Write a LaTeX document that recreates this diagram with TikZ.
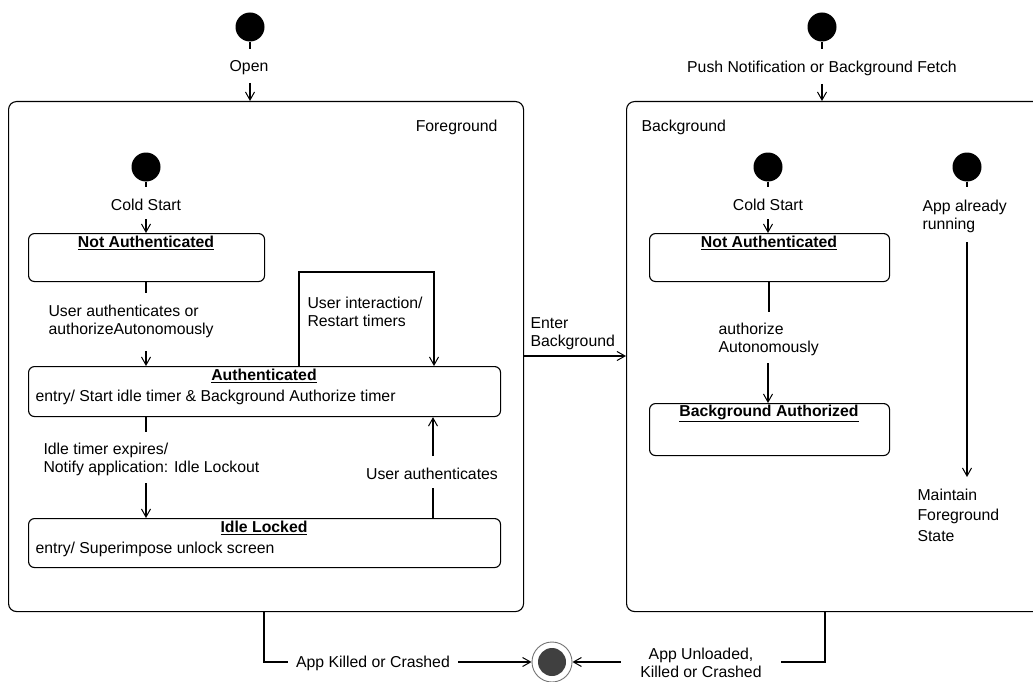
\documentclass[tikz,border=0pt]{standalone}
\usepackage{fontspec}
\setmainfont{Liberation Sans}
\usetikzlibrary{arrows.meta}
\begin{document}
\begin{tikzpicture}[x=1pt,y=-1pt,
  every node/.style={font=\fontsize{15.8}{18}\selectfont},
  line width=1.1pt,
  tip/.style={-{Straight Barb[length=8pt,width=9pt,line width=1pt]}},
  init/.style={circle,fill=black,minimum size=29pt,inner sep=0pt},
  region/.style={draw,rounded corners=8pt,anchor=north west,inner sep=0pt},
  statebox/.style={draw,rounded corners=6pt,anchor=north west,inner sep=0pt},
  lbl/.style={inner sep=1pt,align=left},
  ttl/.style={inner sep=0pt,font=\fontsize{15.8}{18}\selectfont\bfseries},
]
\clip (0,0) rectangle (1033,682);
% regions
\node[region,minimum width=515pt,minimum height=510pt] (fg) at (8,101) {};
\node[region,minimum width=440pt,minimum height=510pt] (bg) at (626,101) {};
\node[lbl,anchor=east] (fgt) at (499,127) {Foreground};
\node[lbl,anchor=west] (bgt) at (640,127) {Background};

% top initial (Open)
\node[init] (s0) at (250,27) {};
\coordinate (s0e) at (250,49);
\draw (s0.south) -- (s0e);
\node[lbl] (open) at (249,68) {Open};
\coordinate (s0a) at (250,83);
\draw[tip] (s0a) -- (fg.north -| s0a);

% top initial (Push)
\node[init] (s1) at (822,27) {};
\coordinate (s1e) at (822,49);
\draw (s1.south) -- (s1e);
\node[lbl] (push) at (822,68) {Push Notification or Background Fetch};
\coordinate (s1a) at (822,84);
\draw[tip] (s1a) -- (bg.north -| s1a);

% ---------- Foreground ----------
\node[init] (f0) at (146,167) {};
\coordinate (f0e) at (146,187);
\draw (f0.south) -- (f0e);
\node[lbl] (fcold) at (146,205) {Cold Start};
\coordinate (f0a) at (146,219);

\node[statebox,minimum width=236pt,minimum height=48pt] (fna) at (28,233) {};
\node[ttl] (fnat) at (146,243) {\underline{Not Authenticated}};
\draw[tip] (f0a) -- (fna.north -| f0a);

\node[statebox,minimum width=472pt,minimum height=50pt] (fauth) at (28,366) {};
\node[ttl] (fautht) at (264,376) {\underline{Authenticated}};
\node[lbl,anchor=west] (fauthe) at (34,397) {entry/ Start idle timer \& Background Authorize timer};

\node[statebox,minimum width=472pt,minimum height=49pt] (fidle) at (28,518) {};
\node[ttl] (fidlet) at (264,528) {\underline{Idle Locked}};
\node[lbl,anchor=west] (fidlee) at (34,549) {entry/ Superimpose unlock screen};

% Not Authenticated -> Authenticated
\coordinate (c1) at (146,293);
\draw (fna.south -| c1) -- (c1);
\node[lbl,anchor=west] (ua) at (47,321) {User authenticates or\\authorizeAutonomously};
\coordinate (c2) at (146,351);
\draw[tip] (c2) -- (fauth.north -| c2);

% self loop
\coordinate (l1) at (299,272);
\coordinate (l2) at (434,272);
\draw[tip] (fauth.north -| l1) -- (l1) -- (l2) -- (fauth.north -| l2);
\node[lbl,anchor=west] (ui) at (306,312) {User interaction/\\Restart timers};

% Authenticated -> Idle Locked
\coordinate (c3) at (146,432);
\draw (fauth.south -| c3) -- (c3);
\node[lbl,anchor=west] (ite) at (42,459) {Idle timer expires/\\Notify application: Idle Lockout};
\coordinate (c4) at (146,483);
\draw[tip] (c4) -- (fidle.north -| c4);

% Idle Locked -> Authenticated
\coordinate (c5) at (433,488);
\draw (fidle.north -| c5) -- (c5);
\node[lbl] (uau) at (432,474) {User authenticates};
\coordinate (c6) at (433,456);
\draw[tip] (c6) -- (fauth.south -| c6);

% Enter Background
\coordinate (eb) at (0,356);
\draw[tip] (fg.east |- eb) -- (bg.west |- eb);
\node[lbl,anchor=west] (ebl) at (529,334) {Enter\\Background};

% ---------- Background ----------
\node[init] (b0) at (768,167) {};
\coordinate (b0e) at (768,187);
\draw (b0.south) -- (b0e);
\node[lbl] (bcold) at (768,205) {Cold Start};
\coordinate (b0a) at (768,219);

\node[statebox,minimum width=240pt,minimum height=48pt] (bna) at (649,233) {};
\node[ttl] (bnat) at (769,243) {\underline{Not Authenticated}};
\draw[tip] (b0a) -- (bna.north -| b0a);

\node[statebox,minimum width=240pt,minimum height=52pt] (bba) at (649,403) {};
\node[ttl] (bbat) at (769,413) {\underline{Background Authorized}};

\coordinate (c7) at (769,312);
\draw (bna.south -| c7) -- (c7);
\node[lbl,anchor=west] (aa) at (717,339) {authorize\\Autonomously};
\coordinate (c8) at (768,363);
\draw[tip] (c8) -- (bba.north -| c8);

\node[init] (b1) at (967,167) {};
\coordinate (b1e) at (967,187);
\draw (b1.south) -- (b1e);
\node[lbl,anchor=west] (ar) at (921,216) {App already\\running};
\coordinate (c9) at (967,242);
\coordinate (c10) at (967,477);
\draw[tip] (c9) -- (c10);
\node[lbl,anchor=west,font=\fontsize{15.8}{20.5}\selectfont] (mfs) at (916,515) {Maintain\\Foreground\\State};

% ---------- Final state ----------
\node[circle,draw=black!55,line width=0.9pt,minimum size=40pt,inner sep=0pt] (fin) at (552,662) {};
\node[circle,fill=black!75,minimum size=28pt,inner sep=0pt] (fini) at (fin.center) {};

\coordinate (k1) at (264,662);
\node[lbl,inner xsep=8pt] (killed) at (373,663) {App Killed or Crashed};
\draw (fg.south -| k1) -- (k1) -- (killed.west |- k1);
\draw[tip] (killed.east |- k1) -- (fin.west);

\coordinate (k2) at (825,662);
\node[lbl,inner xsep=19pt,align=center] (unl) at (701,663) {App Unloaded,\\Killed or Crashed};
\draw (bg.south -| k2) -- (k2) -- (unl.east |- k2);
\draw[tip] (unl.west |- k2) -- (fin.east);
\end{tikzpicture}
\end{document}
